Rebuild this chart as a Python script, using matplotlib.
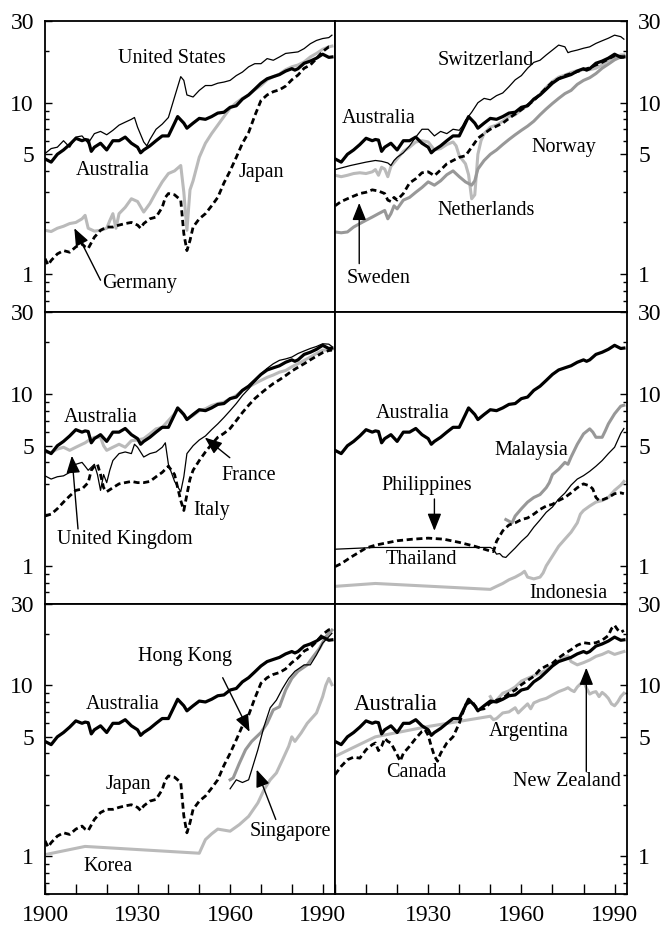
import numpy as np
import matplotlib
matplotlib.use("Agg")
import matplotlib.pyplot as plt
from matplotlib.ticker import FixedLocator, NullFormatter, FuncFormatter

plt.rcParams['font.family'] = ['Liberation Serif', 'DejaVu Serif']

# GDP per hour worked, (year, value)
australia = [(1900,4.7),(1902,4.5),(1904,5.0),(1906,5.3),(1908,5.7),(1910,6.2),(1912,6.0),(1913,6.1),
             (1914,6.05),(1915,5.2),(1916,5.5),(1918,5.8),(1920,5.3),(1922,6.0),(1924,6.0),(1926,6.3),
             (1928,5.8),(1930,5.5),(1931,5.1),(1932,5.3),(1934,5.6),(1936,6.0),(1938,6.4),(1940,6.4),
             (1942,7.6),(1943,8.3),(1945,7.6),(1946,7.1),(1948,7.6),(1950,8.1),(1952,8.0),(1954,8.3),
             (1956,8.7),(1958,8.8),(1960,9.4),(1962,9.6),(1964,10.5),(1966,11.1),(1968,12.0),(1970,13.0),
             (1972,13.8),(1974,14.2),(1976,14.6),(1978,15.3),(1980,15.8),(1981,15.5),(1982,15.8),
             (1984,17.0),(1986,17.5),(1988,18.2),(1990,19.2),(1992,18.4),(1993,18.5)]

usa = [(1900,5.05),(1902,5.4),(1904,5.5),(1906,6.0),(1908,5.5),(1910,6.3),(1912,6.4),(1914,5.8),
       (1916,6.6),(1918,6.8),(1920,6.5),(1922,6.9),(1924,7.4),(1926,7.7),(1928,8.0),(1929,8.2),
       (1930,7.2),(1932,5.9),(1933,5.6),(1934,6.1),(1936,7.0),(1938,7.5),(1940,8.2),(1942,10.8),
       (1944,14.2),(1945,13.5),(1946,11.1),(1948,10.8),(1950,11.8),(1952,12.6),(1954,12.6),(1956,13.0),
       (1958,13.2),(1960,13.5),(1962,14.4),(1964,15.1),(1966,16.2),(1968,16.9),(1970,16.9),(1972,18.1),
       (1974,17.7),(1976,18.5),(1978,19.4),(1980,19.6),(1982,19.8),(1984,20.7),(1986,22.1),(1988,23.1),
       (1990,23.7),(1992,24.0),(1993,24.8)]

japan = [(1900,1.23),(1901,1.13),(1902,1.2),(1904,1.31),(1906,1.37),(1908,1.34),(1910,1.44),(1912,1.5),
         (1913,1.44),(1914,1.41),(1916,1.64),(1918,1.8),(1920,1.88),(1922,1.88),(1924,1.93),(1926,1.97),
         (1928,2.0),(1930,1.93),(1931,1.85),(1932,1.97),(1934,2.1),(1936,2.15),(1938,2.45),(1939,2.8),
         (1940,2.95),(1942,2.9),(1944,2.7),(1945,1.72),(1946,1.37),(1947,1.57),(1948,1.88),(1950,2.1),
         (1952,2.25),(1954,2.5),(1956,2.8),(1958,3.4),(1960,4.0),(1962,4.8),(1964,5.8),(1966,6.7),
         (1968,8.4),(1970,10.3),(1972,11.1),(1974,11.6),(1976,11.9),(1978,12.5),(1980,13.6),(1982,14.5),
         (1984,15.9),(1986,16.6),(1988,18.1),(1990,19.9),(1992,21.2),(1993,21.2)]

germany = [(1900,1.8),(1902,1.77),(1904,1.85),(1906,1.9),(1908,1.97),(1910,2.0),(1912,2.1),(1913,2.2),
           (1914,1.85),(1916,1.78),(1918,1.8),(1920,1.85),(1921,2.05),(1922,2.25),(1923,1.85),(1924,2.25),
           (1926,2.45),(1928,2.75),(1930,2.65),(1932,2.3),(1934,2.58),(1936,3.0),(1938,3.45),(1940,3.86),
           (1942,4.0),(1944,4.3),(1945,3.0),(1946,1.8),(1947,3.1),(1948,3.5),(1950,4.8),(1952,5.8),
           (1954,6.6),(1956,7.4),(1958,8.3),(1960,9.3),(1962,10.0),(1964,10.6),(1966,11.1),(1968,11.9),
           (1970,12.6),(1972,13.6),(1974,14.2),(1976,14.7),(1978,15.6),(1980,16.2),(1982,16.6),(1984,17.3),
           (1986,18.5),(1988,19.4),(1990,20.5),(1992,21.2),(1993,21.4)]

switzerland = [(1900,4.07),(1905,4.3),(1910,4.5),(1913,4.6),(1915,4.55),(1917,4.45),(1918,4.3),(1919,4.6),
               (1920,4.8),(1922,5.1),(1924,5.6),(1926,6.3),(1928,7.0),(1930,7.0),(1932,6.4),(1934,6.8),
               (1936,6.6),(1938,7.0),(1940,6.9),(1941,7.3),(1942,7.9),(1944,8.8),(1946,10.0),(1948,10.6),
               (1950,10.4),(1952,11.0),(1954,11.4),(1956,12.4),(1958,13.6),(1960,14.4),(1962,15.9),
               (1964,17.2),(1966,17.7),(1968,19.0),(1970,20.3),(1972,21.7),(1974,21.2),(1975,19.6),
               (1976,19.9),(1978,20.3),(1980,20.8),(1982,21.2),(1984,22.2),(1986,23.0),(1988,23.8),
               (1990,24.8),(1992,24.3),(1993,23.5)]

sweden = [(1900,2.5),(1902,2.65),(1904,2.75),(1906,2.85),(1908,2.95),(1910,3.0),(1912,3.1),(1914,3.05),
          (1916,2.95),(1917,2.7),(1918,2.65),(1919,2.8),(1920,2.7),(1922,2.95),(1924,3.4),(1926,3.6),
          (1928,3.9),(1930,3.95),(1932,3.75),(1934,4.05),(1936,4.4),(1938,4.6),(1940,4.8),(1942,4.9),
          (1944,5.5),(1946,6.2),(1948,6.6),(1950,7.0),(1952,7.3),(1954,7.6),(1956,8.1),(1958,8.6),
          (1960,9.1),(1962,9.7),(1964,10.3),(1966,11.2),(1968,12.2),(1970,13.2),(1972,13.8),(1974,14.4),
          (1976,14.8),(1978,15.2),(1980,15.6),(1982,16.0),(1984,16.6),(1986,17.2),(1988,18.0),
          (1990,18.8),(1992,18.6),(1993,18.4)]

netherlands = [(1900,3.77),(1902,3.7),(1904,3.77),(1906,3.86),(1908,3.9),(1910,3.86),(1912,3.95),(1913,4.07),
               (1914,3.77),(1915,4.2),(1916,4.1),(1917,3.7),(1918,4.25),(1920,4.7),(1922,5.2),(1924,5.5),
               (1926,5.9),(1928,6.0),(1930,5.9),(1932,5.3),(1934,5.4),(1936,5.7),(1938,5.9),(1939,5.6),
               (1940,4.9),(1942,4.4),(1943,3.8),(1944,2.75),(1945,2.9),(1946,5.0),(1947,6.0),(1948,6.6),
               (1950,7.2),(1952,7.4),(1954,7.8),(1956,8.3),(1958,8.5),(1960,9.1),(1962,9.6),(1964,10.4),
               (1966,11.2),(1968,12.3),(1970,13.3),(1972,14.1),(1974,14.5),(1976,15.0),(1978,15.4),
               (1980,15.6),(1982,15.6),(1984,15.9),(1986,16.6),(1988,17.7),(1990,18.5),(1992,19.0),(1993,19.0)]

norway = [(1900,1.76),(1902,1.74),(1904,1.76),(1906,1.88),(1908,1.97),(1910,2.06),(1912,2.15),(1914,2.25),
          (1916,2.35),(1917,2.1),(1918,2.25),(1919,2.5),(1920,2.4),(1922,2.7),(1924,2.8),(1926,3.0),
          (1928,3.2),(1930,3.45),(1932,3.3),(1934,3.5),(1936,3.8),(1938,4.0),(1940,3.7),(1942,3.45),
          (1944,3.3),(1945,3.5),(1946,4.1),(1948,4.6),(1950,5.0),(1952,5.3),(1954,5.7),(1956,6.1),
          (1958,6.5),(1960,6.9),(1962,7.3),(1964,7.8),(1966,8.5),(1968,9.2),(1970,9.9),(1972,10.6),
          (1974,11.3),(1976,11.8),(1978,12.8),(1980,13.5),(1982,14.0),(1984,14.8),(1986,15.9),
          (1988,16.8),(1990,17.8),(1992,18.5),(1993,18.8)]

uk = [(1900,4.57),(1902,4.57),(1904,4.78),(1906,4.9),(1908,4.7),(1910,4.9),(1912,5.1),(1913,5.2),
      (1914,5.35),(1916,5.6),(1918,5.6),(1919,5.0),(1920,4.7),(1922,4.9),(1924,5.1),(1926,4.9),
      (1928,5.35),(1930,5.4),(1932,5.5),(1934,5.86),(1936,6.27),(1938,6.4),(1940,7.0),(1942,7.67),
      (1943,8.2),(1944,8.0),(1946,7.16),(1948,7.5),(1950,8.0),(1952,8.2),(1954,8.57),(1956,8.8),
      (1958,8.97),(1960,9.38),(1962,9.81),(1964,10.5),(1966,11.0),(1968,11.5),(1970,12.0),(1972,12.5),
      (1974,12.9),(1976,13.4),(1978,13.7),(1980,14.4),(1982,15.0),(1984,15.7),(1986,16.4),(1988,17.2),
      (1990,18.0),(1992,18.0),(1993,18.2)]

france = [(1900,3.34),(1902,3.2),(1904,3.3),(1906,3.34),(1908,3.5),(1910,3.9),(1912,4.0),(1913,3.8),
          (1914,3.6),(1916,3.9),(1917,3.4),(1918,2.75),(1919,3.4),(1920,3.05),(1921,3.6),(1922,4.1),
          (1924,4.5),(1926,4.6),(1928,4.5),(1929,5.1),(1930,4.9),(1932,4.3),(1934,4.5),(1936,4.6),
          (1938,4.9),(1939,5.2),(1940,3.9),(1942,3.1),(1944,2.7),(1945,3.3),(1946,4.5),(1948,5.0),
          (1950,5.4),(1952,5.7),(1954,6.2),(1956,6.7),(1958,7.3),(1960,8.0),(1962,8.8),(1964,9.8),
          (1966,10.7),(1968,11.8),(1970,13.1),(1972,14.1),(1974,15.0),(1976,15.7),(1978,16.0),
          (1980,16.4),(1982,17.2),(1984,17.8),(1986,18.4),(1988,18.9),(1990,19.6),(1992,19.5),(1993,18.9)]

italy = [(1900,1.95),(1902,2.0),(1904,2.15),(1906,2.35),(1908,2.55),(1910,2.75),(1912,2.8),(1914,3.05),
         (1915,3.6),(1916,3.8),(1917,3.9),(1918,3.4),(1919,2.85),(1920,2.7),(1922,2.85),(1924,3.0),
         (1926,3.05),(1928,3.1),(1930,3.05),(1932,3.05),(1934,3.1),(1936,3.3),(1938,3.5),(1940,3.8),
         (1941,3.6),(1942,3.4),(1943,2.85),(1944,2.4),(1945,2.1),(1946,2.6),(1947,3.2),(1948,3.6),
         (1950,4.1),(1952,4.6),(1954,5.1),(1956,5.6),(1958,5.9),(1960,6.3),(1962,7.0),(1964,7.8),
         (1966,8.6),(1968,9.4),(1970,10.1),(1972,10.8),(1974,11.5),(1976,12.1),(1978,12.8),(1980,13.6),
         (1982,14.3),(1984,15.0),(1986,15.8),(1988,16.6),(1990,17.4),(1992,17.9),(1993,18.0)]

malaysia = [(1955,1.86),(1956,1.82),(1957,1.78),(1958,1.95),(1960,2.15),(1962,2.35),(1964,2.5),(1966,2.6),
            (1968,2.85),(1969,3.05),(1970,3.4),(1972,3.65),(1974,4.0),(1975,3.9),(1976,4.3),(1978,5.1),
            (1980,5.86),(1982,6.27),(1983,6.0),(1984,5.6),(1986,5.6),(1987,6.1),(1988,6.7),(1990,7.67),
            (1992,8.5),(1993,8.6)]

thailand = [(1900,1.25),(1913,1.28),(1950,1.28),(1951,1.25),(1952,1.17),(1953,1.18),(1954,1.13),(1955,1.12),
            (1956,1.17),(1958,1.27),(1960,1.39),(1962,1.5),(1964,1.68),(1966,1.85),(1968,2.05),(1970,2.2),
            (1972,2.45),(1974,2.65),(1976,2.95),(1978,3.2),(1980,3.35),(1982,3.55),(1984,3.8),(1986,4.1),
            (1988,4.5),(1990,4.9),(1992,5.9),(1993,6.3)]

philippines = [(1900,0.99),(1902,1.03),(1905,1.12),(1910,1.27),(1913,1.32),(1920,1.4),(1925,1.43),(1930,1.45),
               (1935,1.43),(1940,1.37),(1945,1.3),(1950,1.22),(1951,1.21),(1952,1.39),(1954,1.6),(1956,1.73),
               (1958,1.78),(1960,1.86),(1962,1.9),(1964,2.0),(1966,2.13),(1968,2.23),(1970,2.28),(1972,2.4),
               (1974,2.5),(1976,2.66),(1978,2.85),(1980,3.0),(1982,2.92),(1983,2.8),(1984,2.5),(1985,2.4),
               (1986,2.42),(1988,2.5),(1990,2.63),(1992,2.66),(1993,2.63)]

indonesia = [(1900,0.76),(1913,0.79),(1950,0.73),(1952,0.76),(1954,0.79),(1956,0.83),(1958,0.86),(1960,0.9),
             (1961,0.93),(1962,0.86),(1964,0.84),(1966,0.86),(1967,0.91),(1968,1.0),(1970,1.14),(1972,1.3),
             (1974,1.43),(1976,1.57),(1978,1.78),(1979,2.0),(1980,2.1),(1982,2.23),(1984,2.35),(1986,2.4),
             (1988,2.5),(1990,2.75),(1992,2.95),(1993,3.1)]

korea = [(1900,1.02),(1913,1.14),(1950,1.04),(1952,1.25),(1954,1.35),(1956,1.44),(1958,1.42),(1960,1.4),
         (1963,1.53),(1966,1.71),(1969,2.05),(1971,2.45),(1973,2.8),(1975,3.07),(1977,3.67),(1979,4.4),
         (1980,5.0),(1981,4.7),(1983,5.26),(1985,6.0),(1988,6.9),(1990,8.6),(1991,10.0),(1992,11.0),(1993,10.1)]

hong_kong = [(1960,2.8),(1961,2.87),(1963,3.5),(1965,4.2),(1967,4.7),(1970,5.3),(1972,6.0),(1974,7.2),
             (1976,7.5),(1978,9.4),(1980,11.0),(1982,12.1),(1985,13.2),(1987,14.8),(1989,16.5),(1991,19.3),
             (1993,21.1)]

singapore = [(1960,2.48),(1962,2.8),(1964,2.7),(1966,2.8),(1967,3.2),(1969,4.2),(1971,5.75),(1973,7.4),
             (1975,8.2),(1977,9.6),(1979,11.0),(1981,12.1),(1984,13.2),(1986,13.2),(1988,15.1),(1990,17.7),
             (1992,19.3),(1993,20.2)]

canada = [(1900,3.0),(1902,3.36),(1904,3.67),(1906,3.8),(1908,3.75),(1910,4.2),(1912,4.5),(1913,4.6),
          (1914,4.15),(1915,4.4),(1916,4.9),(1917,4.7),(1918,4.6),(1920,3.93),(1921,3.6),(1922,4.0),
          (1924,4.4),(1926,4.9),(1928,5.38),(1929,5.5),(1930,5.1),(1931,4.4),(1932,3.86),(1933,3.6),
          (1934,4.0),(1936,4.6),(1938,5.0),(1940,6.0),(1942,7.7),(1944,8.1),(1946,7.2),(1948,7.3),
          (1950,7.9),(1952,8.2),(1954,8.4),(1956,9.0),(1958,9.4),(1960,10.1),(1962,10.7),(1964,11.3),
          (1966,12.4),(1968,13.0),(1970,13.5),(1972,14.5),(1974,15.4),(1976,16.2),(1978,17.2),(1980,17.8),
          (1982,17.6),(1984,17.8),(1986,18.4),(1988,19.6),(1989,21.5),(1990,22.5),(1991,21.2),(1992,20.5),
          (1993,21.0)]

argentina = [(1900,3.84),(1913,5.0),(1930,5.75),(1941,6.2),(1950,6.6),(1951,6.3),(1952,6.4),(1954,6.9),
             (1956,7.0),(1958,7.4),(1959,6.9),(1960,7.2),(1962,7.8),(1963,7.3),(1964,7.9),(1966,8.2),
             (1968,8.4),(1970,8.8),(1972,9.2),(1974,9.5),(1975,9.7),(1976,9.4),(1977,9.2),(1978,9.8),
             (1979,10.2),(1980,10.6),(1981,9.6),(1982,8.9),(1983,9.1),(1984,9.2),(1985,8.6),(1986,9.1),
             (1987,8.8),(1988,8.4),(1989,7.8),(1990,7.6),(1991,8.0),(1992,8.6),(1993,9.0)]

new_zealand = [(1950,8.6),(1951,8.0),(1952,8.2),(1954,9.0),(1956,9.3),(1958,9.8),(1960,10.6),(1962,11.0),
               (1964,11.4),(1966,11.8),(1968,12.3),(1970,13.2),(1972,14.0),(1974,14.6),(1975,14.9),
               (1976,13.8),(1978,13.2),(1980,13.6),(1982,14.1),(1984,14.8),(1986,15.2),(1988,15.8),
               (1990,15.2),(1992,15.6),(1993,15.8)]

# line styles
AUS = dict(color='k', lw=2.3)
THIN = dict(color='k', lw=0.9)
DASH = dict(color='k', lw=2.0, ls=(0, (2.2, 1.3)))
LIGHT = dict(color='#bababa', lw=2.2)
MID = dict(color='#989898', lw=2.2)

panels = [
    [(germany, LIGHT), (japan, DASH), (usa, THIN), (australia, AUS)],
    [(netherlands, LIGHT), (norway, MID), (sweden, DASH), (switzerland, THIN), (australia, AUS)],
    [(uk, LIGHT), (italy, DASH), (france, THIN), (australia, AUS)],
    [(indonesia, LIGHT), (malaysia, MID), (philippines, DASH), (thailand, THIN), (australia, AUS)],
    [(korea, LIGHT), (hong_kong, MID), (japan, DASH), (singapore, THIN), (australia, AUS)],
    [(argentina, LIGHT), (new_zealand, LIGHT), (canada, DASH), (australia, AUS)],
]

# (text, year, value, fontsize)
labels = [
    [("United States", 1941, 18.2, 14.5), ("Australia", 1922, 4.03, 14.5),
     ("Japan", 1970.2, 3.92, 14.5), ("Germany", 1930.7, 0.88, 14.5)],
    [("Switzerland", 1948.5, 17.7, 14.5), ("Australia", 1914.2, 8.1, 14.5),
     ("Norway", 1973.5, 5.5, 14.5), ("Netherlands", 1948.5, 2.36, 14.5),
     ("Sweden", 1913.9, 0.94, 14.5)],
    [("Australia", 1918.1, 7.3, 14.5), ("France", 1966, 3.34, 14.5),
     ("Italy", 1954, 2.09, 14.5), ("United Kingdom", 1925.9, 1.43, 14.5)],
    [("Australia", 1924.9, 7.7, 14.5), ("Malaysia", 1963.1, 4.68, 14.5),
     ("Philippines", 1929.4, 2.92, 14.5), ("Thailand", 1927.8, 1.09, 14.5),
     ("Indonesia", 1975.1, 0.69, 14.5)],
    [("Hong Kong", 1945.3, 14.7, 14.5), ("Australia", 1925.2, 7.7, 14.5),
     ("Japan", 1926.9, 2.62, 14.5), ("Singapore", 1979.6, 1.39, 14.5),
     ("Korea", 1920.4, 0.87, 14.5)],
    [("Australia", 1919.4, 7.7, 16.5), ("Argentina", 1962.5, 5.35, 14.5),
     ("Canada", 1926.2, 3.08, 14.5), ("New Zealand", 1974.8, 2.73, 14.5)],
]

# (tail, tip) in (year, value)
arrows = [
    [((1918, 0.92), (1909.5, 1.85))],
    [((1907.8, 1.15), (1907.8, 2.6))],
    [((1959.9, 4.26), (1951.8, 5.58)), ((1910.7, 1.64), (1908.7, 4.37))],
    [((1932, 2.45), (1932, 1.6))],
    [((1957.6, 11.1), (1966.3, 5.35)), ((1974.8, 1.64), (1968.6, 3.21))],
    [((1980.9, 3.13), (1980.9, 12.7))],
]

fig = plt.figure(figsize=(6.65, 9.26), dpi=100)
col_left = [45 / 665, 335 / 665]
col_width = [290 / 665, 292 / 665]
row_px = [(21, 312), (312, 604), (604, 894)]

def fmt(v, p):
    return '%g' % v

for i, series in enumerate(panels):
    r, c = divmod(i, 2)
    top, bot = row_px[r]
    ax = fig.add_axes([col_left[c], 1 - bot / 926, col_width[c], (bot - top) / 926])

    for data, style in series:
        yr, val = zip(*data)
        ax.plot(yr, val, **style)

    ax.set_yscale('log')
    ax.set_ylim(0.6, 30)
    ax.set_xlim(1900, 1994)
    ax.yaxis.set_major_locator(FixedLocator([1, 5, 10, 30]))
    ax.yaxis.set_major_formatter(FuncFormatter(fmt))
    ax.yaxis.set_minor_locator(FixedLocator([0.6, 0.7, 0.8, 0.9, 2, 3, 4, 6, 7, 8, 9, 20]))
    ax.yaxis.set_minor_formatter(NullFormatter())
    ax.tick_params(axis='y', which='both', direction='in', left=(c == 0), right=(c == 1),
                   labelleft=(c == 0), labelright=(c == 1), labelsize=17, pad=8, width=1.0)
    ax.tick_params(axis='y', which='major', length=5)
    ax.tick_params(axis='y', which='minor', length=3)

    if r == 2:
        ticks = np.arange(1900, 1991, 10)
        ax.set_xticks(ticks)
        names = ['%d' % t if t in (1900, 1930, 1960, 1990) else '' for t in ticks]
        if c == 1:
            names[0] = ''
        ax.set_xticklabels(names)
        ax.tick_params(axis='x', direction='in', length=7, width=1.0, labelsize=17, pad=8)
    else:
        ax.tick_params(axis='x', bottom=False, labelbottom=False)

    for s in ax.spines.values():
        s.set_linewidth(1.3)

    for text, x, y, size in labels[i]:
        ax.text(x, y, text, fontsize=size, ha='center', va='center')

    for tail, tip in arrows[i]:
        ax.annotate('', xy=tip, xytext=tail,
                    arrowprops=dict(arrowstyle='-|>,head_length=0.75,head_width=0.3',
                                    color='k', lw=1.0, mutation_scale=14,
                                    shrinkA=0, shrinkB=0))

fig.savefig('out.png', dpi=100)
